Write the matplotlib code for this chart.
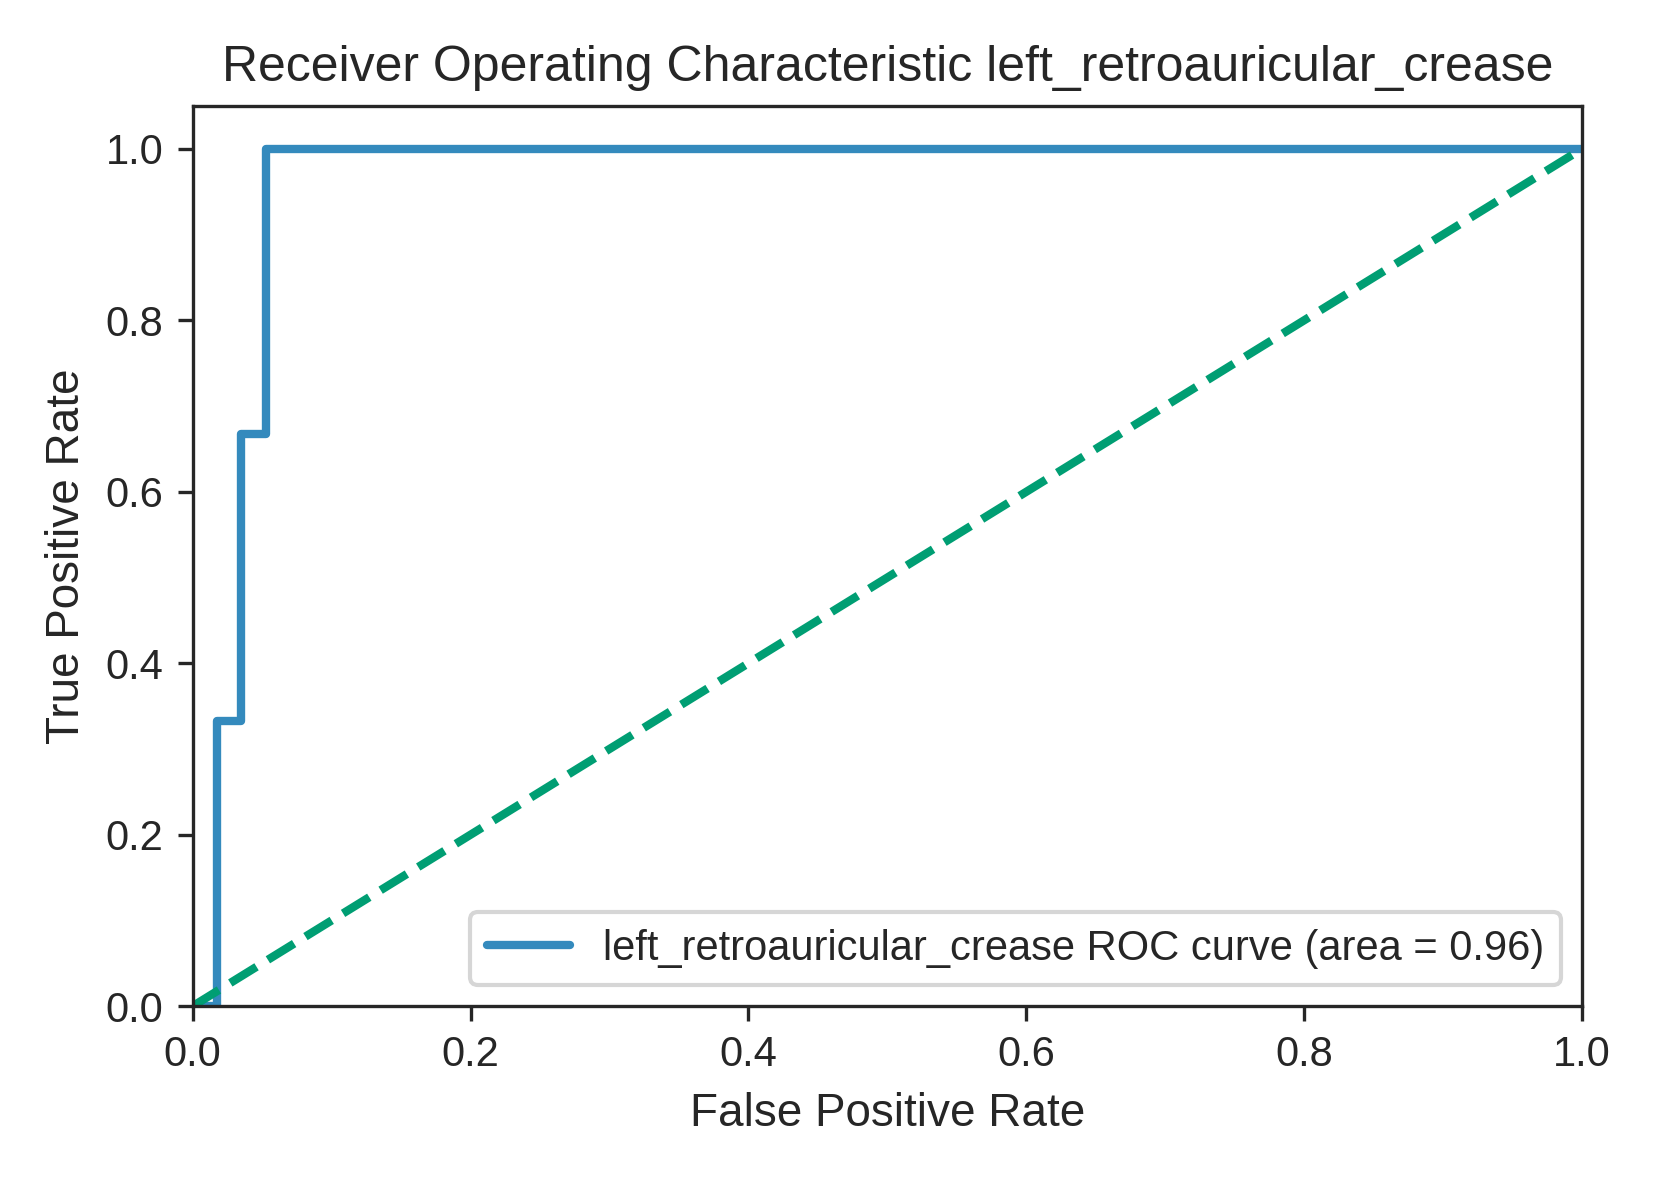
import matplotlib
matplotlib.use("Agg")
import matplotlib.pyplot as plt
import seaborn as sns

sns.set_style("ticks")
plt.rcParams['font.family'] = ['Liberation Sans', 'DejaVu Sans']

label_name = "left_retroauricular_crease"
fpr = [0.0, 0.0175, 0.0175, 0.035, 0.035, 0.053, 0.053, 1.0]
tpr = [0.0, 0.0, 0.333, 0.333, 0.667, 0.667, 1.0, 1.0]
roc_auc = 0.96

fig, ax = plt.subplots(figsize=(5.52, 3.937), dpi=300)
ax.plot(fpr, tpr, color='#348ABD', lw=2,
        label=f'{label_name} ROC curve (area = {roc_auc:.2f})')
ax.plot([0, 1], [0, 1], color='#009E73', lw=2, linestyle='--')
ax.set_xlim(0.0, 1.0)
ax.set_ylim(0.0, 1.05)
ax.set_xlabel('False Positive Rate', fontsize=11)
ax.set_ylabel('True Positive Rate', fontsize=11)
ax.set_title(f'Receiver Operating Characteristic {label_name}', fontsize=12)
ax.tick_params(labelsize=10)
ax.legend(loc='lower right', fontsize=10)
plt.tight_layout()
plt.savefig('out.png', dpi=300)
